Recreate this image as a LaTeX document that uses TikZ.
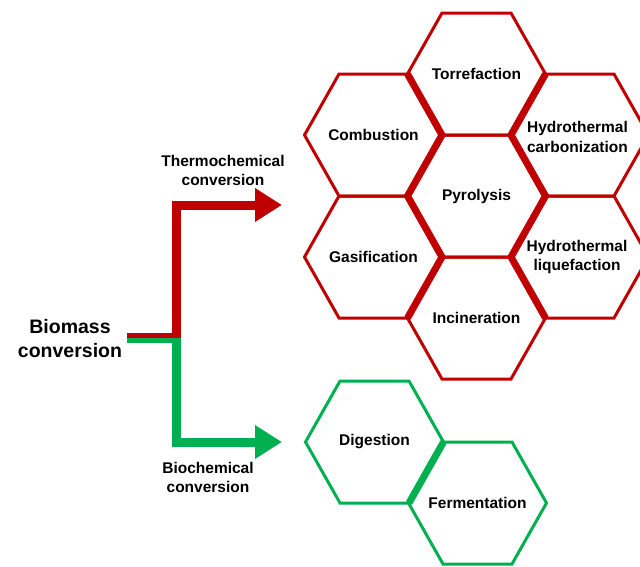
\documentclass[tikz,border=0pt]{standalone}
\usepackage{fontspec}
\setmainfont{Liberation Sans}
\usetikzlibrary{arrows.meta}
\definecolor{hred}{HTML}{C00000}
\definecolor{hgreen}{HTML}{00B050}
\newcommand\hexa[6]{% name, x, y, hex style, text, node options
  \node[hextext,#6] (#1) at (#2,#3) {#5};
  \draw[#4] (#2,#3) ++(-69,0) coordinate (#1-l) -- ++(34.5,-61) coordinate (#1-tl)
    -- ++(69,0) coordinate (#1-tr) -- ++(34.5,61) coordinate (#1-r)
    -- ++(-34.5,61) coordinate (#1-br) -- ++(-69,0) coordinate (#1-bl) -- cycle;
}
\begin{document}
\begin{tikzpicture}[x=1pt,y=-1pt,
  hextext/.style={font=\bfseries\fontsize{15.5}{19.5}\selectfont, align=center, inner sep=0pt},
  lbl/.style={font=\bfseries\fontsize{15.5}{19}\selectfont, align=center, inner sep=0pt},
  hexr/.style={draw=hred, line width=3pt},
  hexg/.style={draw=hgreen, line width=3pt},
  sharedr/.style={draw=hred, line width=7pt},
  sharedg/.style={draw=hgreen, line width=7pt},
  stub/.style={line width=5pt},
  trunk/.style={line width=9pt},
  bigarrow/.style={-{Triangle[length=27pt,width=32pt]}}]
\useasboundingbox (0,0) rectangle (640,566);

% red hexagons
\hexa{comb}{373.5}{135}{hexr}{Combustion}{}
\hexa{torr}{476.5}{74}{hexr}{Torrefaction}{}
\hexa{hc}{579.5}{135}{hexr}{Hydrothermal\\carbonization}{xshift=-2pt,yshift=-2pt}
\hexa{pyro}{476.5}{196}{hexr}{Pyrolysis}{}
\hexa{gas}{373.5}{257}{hexr}{Gasification}{}
\hexa{hl}{579.5}{257}{hexr}{Hydrothermal\\liquefaction}{xshift=-2.5pt}
\hexa{inc}{476.5}{318}{hexr}{Incineration}{}
\draw[sharedr] (torr-l) -- (torr-bl) -- (pyro-l) -- (pyro-bl) -- (inc-l);
\draw[sharedr] (torr-r) -- (torr-br) -- (pyro-r) -- (pyro-br) -- (inc-r);

% green hexagons
\hexa{dig}{374.5}{442}{hexg}{Digestion}{}
\hexa{ferm}{477.5}{503}{hexg}{Fermentation}{}
\draw[sharedg] (dig-r) -- (dig-br);

% labels
\node[font=\bfseries\fontsize{19.5}{24}\selectfont, align=center, inner sep=0pt] (bio) at (70,339) {Biomass\\conversion};
\node[lbl] (thermo) at (223,170) {Thermochemical\\conversion};
\node[lbl] (biochem) at (208,477) {Biochemical\\conversion};

% connector coordinates
\coordinate (rs) at (127,335.5);
\coordinate (gs) at (127,340.5);
\coordinate (joint) at (176.5,338);
\coordinate (rcorner) at (176.5,205);
\coordinate (gcorner) at (176.5,442);
\coordinate (rtip) at (282,205);
\coordinate (gtip) at (282,442);

% red branch
\draw[hred, stub] (rs) -- (rs -| 181,0);
\draw[hred, trunk, bigarrow] (joint) -- (rcorner) -- (rtip);
% green branch
\draw[hgreen, stub] (gs) -- (gs -| 181,0);
\draw[hgreen, trunk, bigarrow] (joint) -- (gcorner) -- (gtip);
\end{tikzpicture}
\end{document}
